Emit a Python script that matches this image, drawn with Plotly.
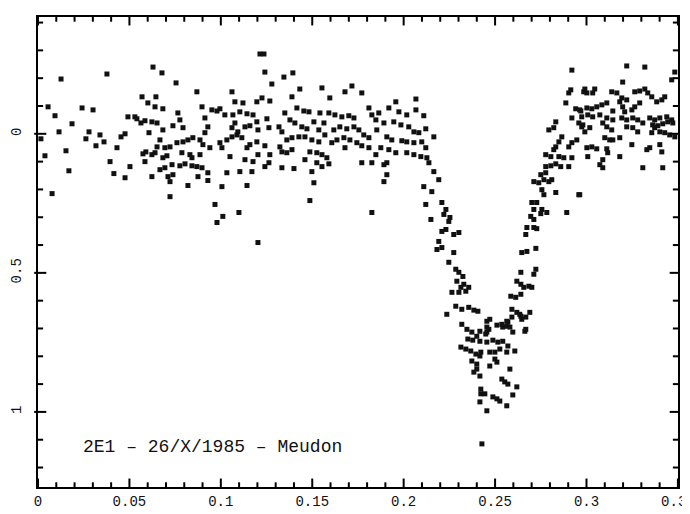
import plotly.graph_objects as go

# Light curve of 2E1, 26/X/1985, Meudon: phase vs. magnitude difference
phase_a = [0.0016, 0.0038, 0.0055, 0.0077, 0.0093, 0.0115, 0.0126, 0.0153, 0.0169, 0.0186,
           0.0241, 0.0262, 0.0279, 0.0301, 0.0317, 0.0339, 0.0361, 0.0377, 0.0394, 0.0415,
           0.0432, 0.0454, 0.0476, 0.0476, 0.0492, 0.0503, 0.0530, 0.0541, 0.0563, 0.0585,
           0.0569, 0.0601, 0.0574, 0.0590, 0.0585, 0.0607]
dmag_a = [0.018, 0.079, -0.097, 0.215, -0.065, -0.007, -0.197, 0.061, 0.133, -0.036,
          -0.093, 0.018, -0.007, -0.086, 0.043, 0.004, 0.029, -0.215, 0.100, 0.143,
          0.050, 0.011, 0.000, 0.158, -0.061, 0.118, -0.061, -0.054, -0.039, -0.047,
          -0.133, -0.111, 0.072, 0.065, 0.100, -0.004]

phase_b = [0.0629, 0.0678, 0.0755, 0.0869, 0.1061, 0.1214, 0.0645, 0.0640, 0.0683, 0.0765,
           0.0897, 0.1077, 0.1121, 0.1197, 0.0951, 0.0979, 0.0995, 0.1022, 0.1066, 0.1104,
           0.1143, 0.1176, 0.0623, 0.0651, 0.0683, 0.0738, 0.0776, 0.0793, 0.0913, 0.0929,
           0.0913, 0.1077, 0.1061, 0.1093, 0.1132, 0.1159, 0.1197, 0.1203, 0.0667, 0.0651,
           0.0694, 0.0722, 0.0760, 0.0793, 0.0820, 0.0847, 0.0886, 0.0902, 0.0940, 0.0995,
           0.1006, 0.1033, 0.1061, 0.1088, 0.1115, 0.1143, 0.1159, 0.1197, 0.0623, 0.0640,
           0.0683, 0.0705, 0.0787, 0.0831, 0.0842, 0.0886, 0.1050, 0.1132, 0.1176, 0.1203,
           0.0733, 0.0776, 0.0804, 0.0842, 0.0869, 0.0897, 0.0623, 0.0667, 0.0694, 0.0711,
           0.0738, 0.0875, 0.0929, 0.0929, 0.1033, 0.1104, 0.1170, 0.0722, 0.0820, 0.1006,
           0.1143, 0.0722, 0.0968, 0.1011, 0.0979, 0.1099, 0.1203]
dmag_b = [-0.240, -0.219, -0.183, -0.151, -0.151, -0.287, -0.133, -0.097, -0.090, -0.075,
          -0.097, -0.115, -0.111, -0.115, -0.086, -0.082, -0.090, -0.068, -0.068, -0.079,
          -0.072, -0.068, -0.043, -0.039, -0.014, -0.029, -0.050, -0.022, -0.057, -0.025,
          -0.004, -0.039, -0.022, -0.007, -0.025, -0.029, -0.043, -0.014, 0.022, 0.047,
          0.050, 0.047, 0.032, 0.029, 0.022, 0.014, 0.022, 0.039, 0.050, 0.032,
          0.050, 0.022, 0.011, 0.004, 0.014, 0.050, 0.039, 0.029, 0.075, 0.068,
          0.086, 0.079, 0.068, 0.075, 0.086, 0.075, 0.082, 0.093, 0.100, 0.075,
          0.111, 0.115, 0.108, 0.115, 0.118, 0.122, 0.154, 0.129, 0.122, 0.154,
          0.147, 0.154, 0.140, 0.168, 0.140, 0.136, 0.136, 0.172, 0.186, 0.190,
          0.186, 0.226, 0.254, 0.297, 0.319, 0.283, 0.391]

phase_c = [0.1236, 0.1241, 0.1345, 0.1394, 0.1279, 0.1432, 0.1553, 0.1679, 0.1717, 0.1771,
           0.1389, 0.1596, 0.1268, 0.1225, 0.1416, 0.1454, 0.1482, 0.1542, 0.1591, 0.1624,
           0.1662, 0.1700, 0.1728, 0.1810, 0.1826, 0.1252, 0.1350, 0.1378, 0.1405, 0.1443,
           0.1471, 0.1509, 0.1564, 0.1318, 0.1334, 0.1263, 0.1536, 0.1569, 0.1618, 0.1651,
           0.1689, 0.1728, 0.1755, 0.1782, 0.1810, 0.1361, 0.1389, 0.1427, 0.1460, 0.1498,
           0.1536, 0.1607, 0.1635, 0.1673, 0.1706, 0.1744, 0.1323, 0.1268, 0.1241, 0.1334,
           0.1361, 0.1389, 0.1487, 0.1525, 0.1553, 0.1580, 0.1679, 0.1771, 0.1810, 0.1263,
           0.1241, 0.1460, 0.1525, 0.1553, 0.1591, 0.1334, 0.1400, 0.1498, 0.1509, 0.1771,
           0.1826, 0.1487, 0.1826]
dmag_c = [-0.287, -0.222, -0.204, -0.219, -0.179, -0.161, -0.165, -0.151, -0.172, -0.147,
          -0.133, -0.129, -0.118, -0.129, -0.093, -0.082, -0.079, -0.075, -0.075, -0.068,
          -0.061, -0.065, -0.057, -0.093, -0.068, -0.054, -0.075, -0.050, -0.039, -0.025,
          -0.018, -0.043, -0.039, -0.025, -0.007, -0.022, -0.014, 0.004, -0.014, -0.025,
          -0.018, -0.025, -0.014, 0.004, 0.014, 0.022, 0.014, 0.011, 0.011, 0.022,
          0.029, 0.032, 0.022, 0.014, 0.022, 0.032, 0.047, 0.075, 0.043, 0.065,
          0.068, 0.057, 0.065, 0.068, 0.075, 0.086, 0.050, 0.043, 0.050, 0.104,
          0.118, 0.093, 0.104, 0.118, 0.108, 0.122, 0.125, 0.136, 0.176, 0.104,
          0.104, 0.240, 0.283]

phase_d = [0.2067, 0.1957, 0.1919, 0.1864, 0.1974, 0.2017, 0.2067, 0.2110, 0.1848, 0.1892,
           0.1946, 0.1985, 0.2028, 0.2056, 0.2083, 0.2121, 0.2165, 0.1853, 0.1908, 0.1935,
           0.1990, 0.2017, 0.2056, 0.2099, 0.2121, 0.1875, 0.1919, 0.1957, 0.1848, 0.2017,
           0.2056, 0.2094, 0.2127, 0.1892, 0.1908, 0.2138, 0.2165, 0.2192, 0.1908, 0.1892,
           0.2110, 0.2154, 0.2121, 0.2209, 0.2231, 0.2220, 0.2149, 0.2247, 0.2231, 0.2274,
           0.2302, 0.2192, 0.2209, 0.2182, 0.2274, 0.2247, 0.2285, 0.2302, 0.2329, 0.2313,
           0.2302, 0.2340, 0.2356, 0.2264, 0.2236, 0.2285, 0.2318, 0.2356, 0.2384, 0.2318,
           0.2346, 0.2373, 0.2400, 0.2313, 0.2340, 0.2367, 0.2395, 0.2422, 0.2373, 0.2400,
           0.2384, 0.2422, 0.2422, 0.2428, 0.2324, 0.2291, 0.2406, 0.2209, 0.2253]
dmag_d = [-0.125, -0.115, -0.093, -0.075, -0.079, -0.068, -0.086, -0.065, -0.050, -0.039,
          -0.043, -0.032, -0.025, -0.007, -0.004, -0.018, 0.011, -0.014, 0.011, 0.022,
          0.025, 0.029, 0.032, 0.029, 0.050, 0.050, 0.057, 0.068, 0.075, 0.068,
          0.075, 0.082, 0.086, 0.111, 0.104, 0.104, 0.136, 0.165, 0.147, 0.172,
          0.190, 0.208, 0.254, 0.247, 0.272, 0.290, 0.308, 0.315, 0.344, 0.362,
          0.355, 0.387, 0.409, 0.416, 0.427, 0.462, 0.487, 0.498, 0.541, 0.552,
          0.570, 0.566, 0.552, 0.570, 0.649, 0.620, 0.631, 0.624, 0.634, 0.685,
          0.703, 0.713, 0.728, 0.767, 0.774, 0.781, 0.792, 0.785, 0.817, 0.828,
          0.857, 0.918, 0.935, 1.115, 0.513, 0.530, 0.638, 0.351, 0.301]

phase_e = [0.2417, 0.2455, 0.2471, 0.2455, 0.2455, 0.2510, 0.2542, 0.2564, 0.2570, 0.2581,
           0.2597, 0.2592, 0.2619, 0.2635, 0.2646, 0.2663, 0.2690, 0.2351, 0.2378, 0.2417,
           0.2455, 0.2488, 0.2515, 0.2542, 0.2471, 0.2499, 0.2526, 0.2564, 0.2570, 0.2608,
           0.2417, 0.2499, 0.2510, 0.2471, 0.2400, 0.2417, 0.2581, 0.2537, 0.2553, 0.2570,
           0.2619, 0.2444, 0.2488, 0.2510, 0.2526, 0.2417, 0.2564, 0.2597, 0.2455]
dmag_e = [0.710, 0.674, 0.667, 0.695, 0.713, 0.688, 0.695, 0.692, 0.677, 0.695,
          0.713, 0.659, 0.642, 0.649, 0.667, 0.710, 0.642, 0.738, 0.742, 0.746,
          0.749, 0.742, 0.749, 0.746, 0.785, 0.785, 0.774, 0.785, 0.763, 0.781,
          0.799, 0.810, 0.821, 0.835, 0.846, 0.871, 0.846, 0.882, 0.892, 0.900,
          0.910, 0.935, 0.946, 0.953, 0.961, 0.964, 0.978, 0.939, 0.996]

phase_f = [0.2920, 0.2914, 0.2903, 0.2985, 0.2887, 0.2941, 0.2969, 0.2920, 0.2958, 0.2974,
           0.2832, 0.2821, 0.2794, 0.2865, 0.2849, 0.2832, 0.2821, 0.2903, 0.2920, 0.2947,
           0.2777, 0.2805, 0.2849, 0.2876, 0.2920, 0.2903, 0.2777, 0.2805, 0.2832, 0.2859,
           0.2750, 0.2777, 0.2712, 0.2739, 0.2767, 0.2794, 0.2810, 0.2832, 0.2958, 0.2756,
           0.2767, 0.2701, 0.2728, 0.2712, 0.2756, 0.2783, 0.2892, 0.2695, 0.2712, 0.2750,
           0.2674, 0.2712, 0.2728, 0.2668, 0.2646, 0.2674, 0.2723, 0.2723, 0.2712, 0.2641,
           0.2619, 0.2641, 0.2657, 0.2685, 0.2701, 0.2586, 0.2613, 0.2641, 0.2592, 0.2641,
           0.2668, 0.2564, 0.2537, 0.2668, 0.2466, 0.2449]
dmag_f = [-0.229, -0.158, -0.147, -0.151, -0.111, -0.090, -0.082, -0.057, -0.039, -0.025,
          -0.043, -0.022, -0.014, 0.011, 0.029, 0.047, 0.057, 0.047, 0.032, 0.022,
          0.075, 0.082, 0.082, 0.086, 0.086, 0.118, 0.118, 0.115, 0.108, 0.118,
          0.147, 0.140, 0.172, 0.176, 0.165, 0.172, 0.165, 0.211, 0.219, 0.201,
          0.219, 0.247, 0.247, 0.272, 0.272, 0.283, 0.283, 0.297, 0.308, 0.287,
          0.337, 0.337, 0.341, 0.362, 0.427, 0.423, 0.412, 0.487, 0.505, 0.498,
          0.530, 0.541, 0.552, 0.548, 0.552, 0.584, 0.588, 0.577, 0.631, 0.656,
          0.659, 0.674, 0.685, 0.703, 0.703, 0.720]

phase_g = [0.3220, 0.3319, 0.3198, 0.3466, 0.3483, 0.2991, 0.3002, 0.3045, 0.3034, 0.3138,
           0.3166, 0.3193, 0.3220, 0.3264, 0.3291, 0.3319, 0.3335, 0.3357, 0.3384, 0.3412,
           0.3428, 0.2963, 0.3002, 0.3029, 0.3056, 0.3084, 0.3111, 0.3144, 0.3182, 0.3198,
           0.3209, 0.3248, 0.3264, 0.3291, 0.2974, 0.3007, 0.3034, 0.3073, 0.3111, 0.3144,
           0.3193, 0.3220, 0.3253, 0.3280, 0.3308, 0.3346, 0.3373, 0.3401, 0.3439, 0.3466,
           0.3362, 0.3390, 0.3417, 0.3444, 0.3472, 0.2980, 0.3018, 0.2991, 0.3089, 0.3111,
           0.3138, 0.3220, 0.3253, 0.3280, 0.3357, 0.3373, 0.3401, 0.3428, 0.3455, 0.3483,
           0.3100, 0.3127, 0.3144, 0.3182, 0.3002, 0.3029, 0.3056, 0.3248, 0.3111, 0.3116,
           0.3401, 0.3412, 0.3330, 0.3346, 0.3007, 0.3182, 0.3089, 0.3073, 0.3089, 0.3308,
           0.3417, 0.2963]
dmag_g = [-0.244, -0.240, -0.186, -0.194, -0.222, -0.161, -0.147, -0.161, -0.147, -0.151,
          -0.147, -0.129, -0.122, -0.151, -0.154, -0.161, -0.147, -0.133, -0.115, -0.122,
          -0.133, -0.086, -0.093, -0.090, -0.097, -0.104, -0.111, -0.082, -0.115, -0.097,
          -0.079, -0.086, -0.097, -0.111, -0.061, -0.068, -0.061, -0.068, -0.057, -0.050,
          -0.057, -0.050, -0.057, -0.050, -0.039, -0.057, -0.050, -0.057, -0.061, -0.050,
          -0.032, -0.029, -0.036, -0.043, -0.039, -0.032, -0.022, -0.007, -0.039, -0.025,
          -0.014, -0.025, -0.022, -0.007, -0.004, -0.022, -0.007, -0.004, 0.004, 0.011,
          0.014, 0.022, 0.022, 0.014, 0.050, 0.047, 0.054, 0.039, 0.054, 0.068,
          0.039, 0.065, 0.057, 0.050, 0.082, 0.082, 0.093, 0.111, 0.122, 0.122,
          0.122, 0.219]

phase = phase_a + phase_b + phase_c + phase_d + phase_e + phase_f + phase_g
dmag = dmag_a + dmag_b + dmag_c + dmag_d + dmag_e + dmag_f + dmag_g

x_ticks = [0, 0.05, 0.1, 0.15, 0.2, 0.25, 0.3, 0.35]
x_labels = ["0", "0.05", "0.1", "0.15", "0.2", "0.25", "0.3", "0.35"]
x_minor = [0.01, 0.02, 0.03, 0.04, 0.06, 0.07, 0.08, 0.09, 0.11, 0.12, 0.13, 0.14,
           0.16, 0.17, 0.18, 0.19, 0.21, 0.22, 0.23, 0.24, 0.26, 0.27, 0.28, 0.29,
           0.31, 0.32, 0.33, 0.34]
y_ticks = [0, 0.5, 1]
y_labels = ["0", "0.5", "1"]
y_minor = [-0.4, -0.3, -0.2, -0.1, 0.1, 0.2, 0.3, 0.4, 0.6, 0.7, 0.8, 0.9, 1.1, 1.2]
caption = "2E1 \u2013 26/X/1985 \u2013 Meudon"

ink = "#111111"
font_main = "Liberation Mono"

fig = go.Figure()
fig.add_trace(go.Scatter(
    x=phase, y=dmag, mode="markers",
    marker=dict(symbol="square", size=5, color=ink, line=dict(width=0)),
    showlegend=False, hoverinfo="x+y",
))

fig.add_annotation(
    x=0.0235, y=1.127, xref="x", yref="y", text=caption, showarrow=False,
    xanchor="left", yanchor="middle",
    font=dict(family=font_main, size=18, color=ink),
)

# tick marks on all four sides of the frame, drawn inward from the frame
MAJ_X, MIN_X = 0.018, 0.010   # fraction of plot height
MAJ_Y, MIN_Y = 0.013, 0.008   # fraction of plot width
tick_line = dict(color="black", width=2)
shapes = []
for vals, ln in ((x_ticks, MAJ_X), (x_minor, MIN_X)):
    for t in vals:
        shapes.append(dict(type="line", xref="x", yref="y domain", x0=t, x1=t, y0=0, y1=ln, line=tick_line))
        shapes.append(dict(type="line", xref="x", yref="y domain", x0=t, x1=t, y0=1, y1=1 - ln, line=tick_line))
for vals, ln, out in ((y_ticks, MAJ_Y, 0.006), (y_minor, MIN_Y, 0.0)):
    for t in vals:
        shapes.append(dict(type="line", xref="x domain", yref="y", x0=-out, x1=ln, y0=t, y1=t, line=tick_line))
        shapes.append(dict(type="line", xref="x domain", yref="y", x0=1, x1=1 - ln, y0=t, y1=t, line=tick_line))

axis_common = dict(
    showgrid=False, zeroline=False, showline=True, linecolor="black", linewidth=2,
    mirror=True, ticks="", tickfont=dict(family=font_main, size=14, color=ink),
    automargin=False, ticklabeloverflow="allow",
)

fig.update_xaxes(range=[0, 0.35005], tickvals=x_ticks, ticktext=x_labels, **axis_common)
fig.update_yaxes(range=[1.27, -0.42], tickvals=y_ticks, ticktext=y_labels, tickangle=-90,
                 ticklabelstandoff=9, **axis_common)

# the page body adds an 8 px offset, so the figure is sized to fit the window
fig.update_layout(
    width=682, height=506,
    margin=dict(l=30, r=12, t=9, b=27),
    paper_bgcolor="white", plot_bgcolor="white",
    font=dict(family=font_main, color=ink),
    shapes=shapes,
)

fig.write_html("out.html")
